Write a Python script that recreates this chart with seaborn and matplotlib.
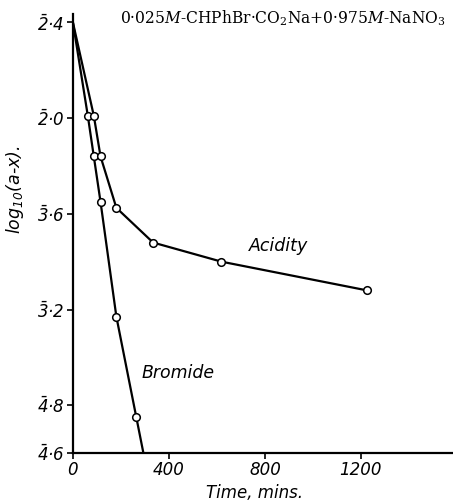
import numpy as np
import pandas as pd
import matplotlib
matplotlib.use("Agg")
import matplotlib.pyplot as plt
import seaborn as sns

# readings (time in mins, log10(a-x))
bromide_time = [0, 62, 87, 115, 181, 264]
bromide_log = [-1.60, -1.99, -2.16, -2.35, -2.83, -3.25]

acidity_time = [0, 87, 115, 181, 334, 619, 1225]
acidity_log = [-1.60, -1.99, -2.16, -2.375, -2.52, -2.60, -2.72]

y_ticks = [-1.6, -2.0, -2.4, -2.8, -3.2, -3.4]
y_tick_labels = [r"$\bar{2}$·4", r"$\bar{2}$·0", r"$\bar{3}$·6",
                 r"$\bar{3}$·2", r"$\bar{4}$·8", r"$\bar{4}$·6"]
x_ticks = [0, 400, 800, 1200]

y_min, y_max = -3.4, -1.565
x_max = 1580

sns.set_style("ticks")
plt.rcParams["font.family"] = ["DejaVu Sans"]
plt.rcParams["mathtext.fontset"] = "dejavuserif"
plt.rcParams["mathtext.default"] = "regular"
for key in ["text.color", "axes.labelcolor", "xtick.color", "ytick.color",
            "axes.edgecolor"]:
    plt.rcParams[key] = "black"

fig = plt.figure(figsize=(4.53, 5.01), dpi=100)
ax = fig.add_axes([0.161, 0.0958, 0.837, 0.876])

# bromide line runs on straight down to the time axis
slope = (bromide_log[-1] - bromide_log[-2]) / (bromide_time[-1] - bromide_time[-2])
t_end = bromide_time[-1] + (y_min - bromide_log[-1]) / slope
brom_line = pd.DataFrame({"t": bromide_time + [t_end], "v": bromide_log + [y_min]})
acid_line = pd.DataFrame({"t": acidity_time, "v": acidity_log})

sns.lineplot(data=brom_line, x="t", y="v", sort=False, color="black",
             linewidth=1.6, ax=ax)
sns.lineplot(data=acid_line, x="t", y="v", sort=False, color="black",
             linewidth=1.6, ax=ax)

sns.scatterplot(x=bromide_time[1:], y=bromide_log[1:], marker="o", s=30,
                facecolor="white", edgecolor="black", linewidth=1.1,
                zorder=5, ax=ax)
sns.scatterplot(x=acidity_time[1:], y=acidity_log[1:], marker="o", s=30,
                facecolor="white", edgecolor="black", linewidth=1.1,
                zorder=5, ax=ax)

ax.set_xlim(0, x_max)
ax.set_ylim(y_min, y_max)
ax.set_xticks(x_ticks)
ax.set_xticklabels([str(t) for t in x_ticks], fontstyle="italic", fontsize=12)
ax.set_yticks(y_ticks)
ax.set_yticklabels(y_tick_labels, fontstyle="italic", fontsize=12)
ax.tick_params(direction="out", length=4, width=1.2, pad=2)

sns.despine(ax=ax)
ax.spines["left"].set_linewidth(1.6)
ax.spines["bottom"].set_linewidth(1.6)

ax.set_xlabel("Time, mins.", fontstyle="italic", fontsize=12)
ax.xaxis.set_label_coords(0.48, -0.07)
ax.set_ylabel("log$_{10}$(a-x).", fontstyle="italic", fontsize=12.5)
ax.yaxis.set_label_coords(-0.125, 0.6)

ax.text(858, -2.533, "Acidity", fontstyle="italic", fontsize=12.5,
        ha="center", va="center")
ax.text(437, -3.067, "Bromide", fontstyle="italic", fontsize=12.5,
        ha="center", va="center")

fig.text(120 / 453, 1 - 18 / 501,
         r"0·025$\mathit{M}$-CHPhBr·CO$_2$Na+0·975$\mathit{M}$-NaNO$_3$",
         family="DejaVu Serif", fontsize=11.2, ha="left", va="center")

fig.savefig("out.png", dpi=100)
